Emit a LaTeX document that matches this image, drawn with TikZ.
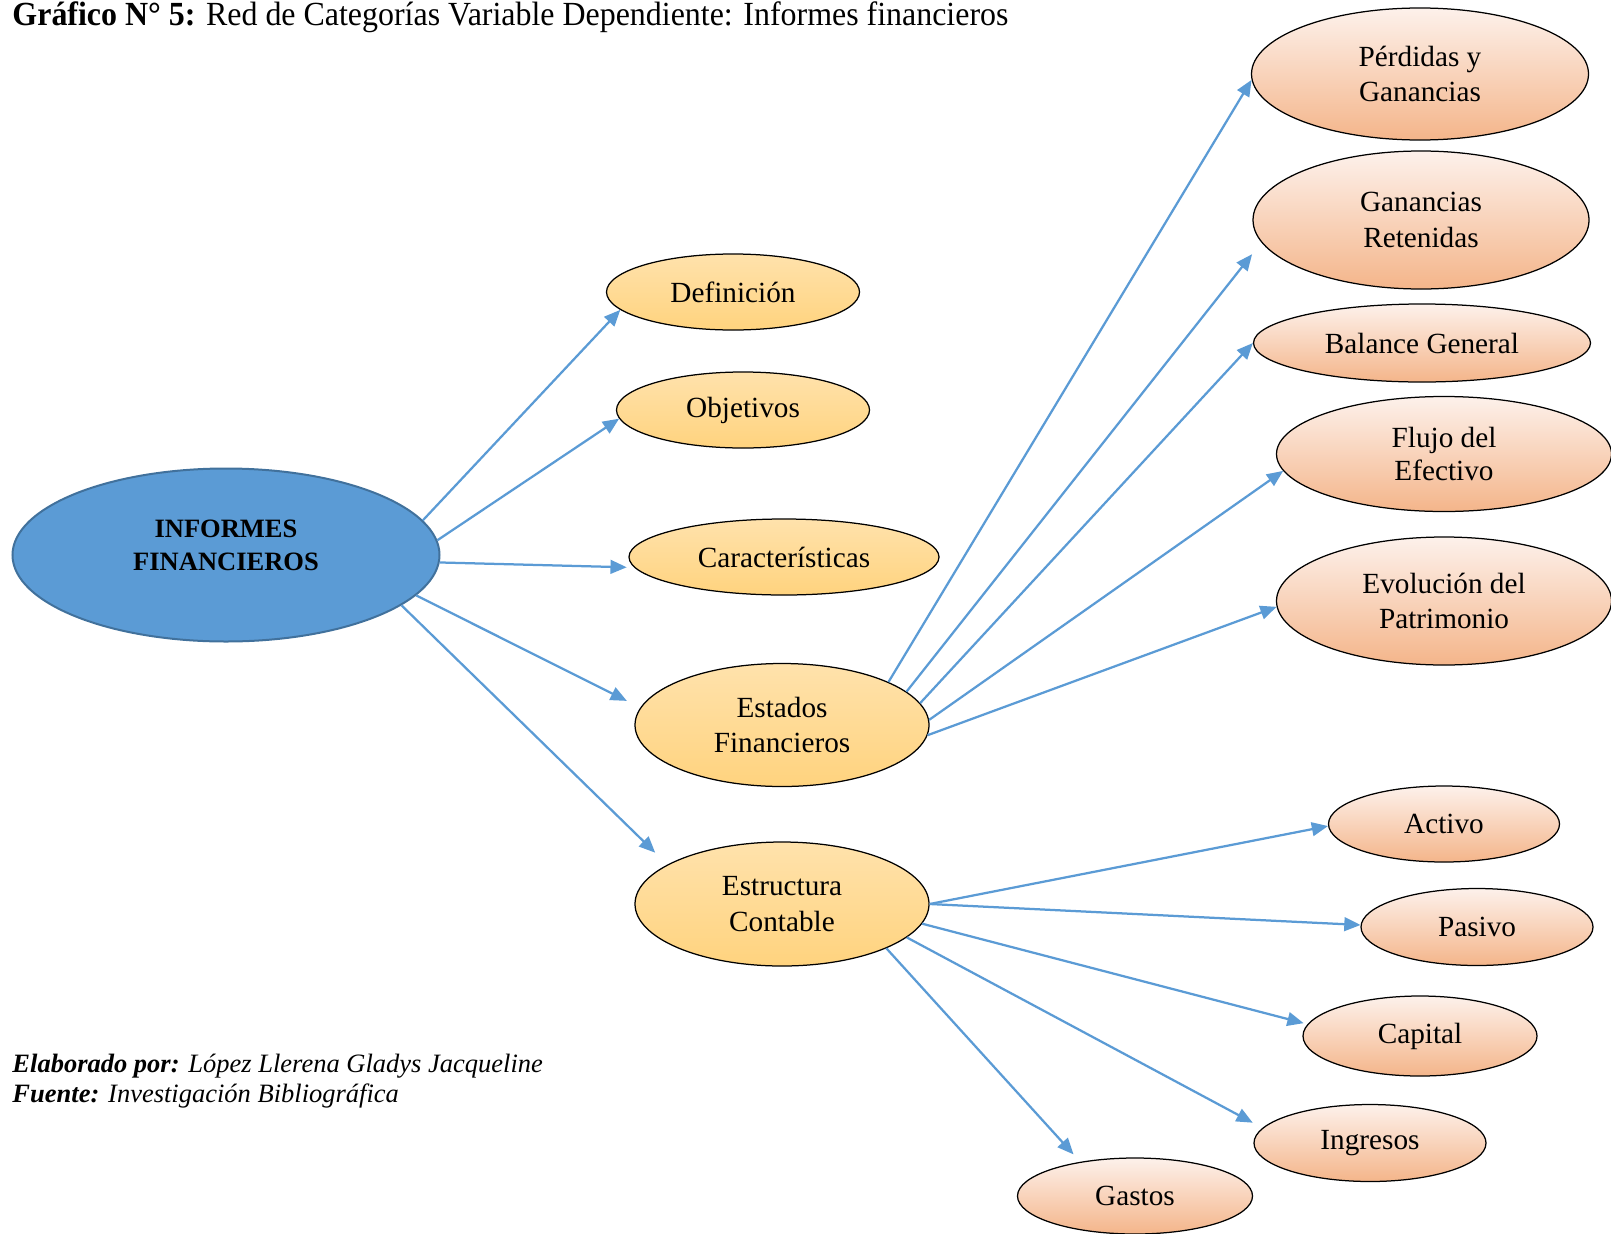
\documentclass[tikz,border=0pt]{standalone}
\usepackage{graphicx}
\usepackage{fontspec}
\setmainfont{Liberation Serif}
\usetikzlibrary{shapes.geometric,arrows.meta}

\definecolor{azul}{HTML}{5B9BD5}
\definecolor{azulborde}{HTML}{41719C}
\definecolor{amarilloA}{HTML}{FFE2AC}
\definecolor{amarilloB}{HTML}{FFD37E}
\definecolor{salmonA}{HTML}{FDF1EB}
\definecolor{salmonB}{HTML}{F4B58A}

\tikzset{
  principal/.style={ellipse, draw=azulborde, line width=0.8pt, fill=azul,
    inner sep=0pt, align=center, font=\fontsize{10.6}{13.2}\selectfont\bfseries},
  categoria/.style={ellipse, draw=black, line width=0.5pt, top color=amarilloA,
    bottom color=amarilloB, inner sep=0pt, align=center,
    font=\fontsize{11.7}{14.2}\selectfont},
  subcategoria/.style={categoria, top color=salmonA, bottom color=salmonB},
  flecha/.style={draw=azul, line width=0.9pt, -{Triangle[length=6.5pt,width=5.5pt]}}
}

\begin{document}
\begin{tikzpicture}[x=0.4pt,y=-0.4pt]
    \useasboundingbox (0,0) rectangle (1611,1233);

    % titulo y notas
    \node[anchor=base west, inner sep=0pt] (titulo) at (12,25)
      {\fontsize{13.5}{16}\selectfont\scalebox{0.946}[1]{\textbf{Gráfico N° 5:} Red de Categorías Variable Dependiente: Informes financieros}};
    \node[anchor=base west, inner sep=0pt, font=\fontsize{10.6}{12.4}\selectfont\itshape] (elaborado) at (12,1072)
      {\textbf{Elaborado por:} López Llerena Gladys Jacqueline};
    \node[anchor=base west, inner sep=0pt, font=\fontsize{10.6}{12.4}\selectfont\itshape] (fuente) at (12,1102)
      {\textbf{Fuente:} Investigación Bibliográfica};

    % nodo central
    \node[principal, minimum width=170.8pt, minimum height=69.2pt, text depth=8pt] (IF) at (226,555) {INFORMES\\FINANCIEROS};

    % categorias
    \node[categoria, minimum width=101.2pt, minimum height=30.4pt] (Def) at (733,292) {Definición};
    \node[categoria, minimum width=101.2pt, minimum height=30.4pt] (Obj) at (743,410) {Objetivos};
    \node[categoria, minimum width=124pt, minimum height=30.4pt] (Car) at (784,557) {Características};
    \node[categoria, minimum width=117.6pt, minimum height=49.2pt] (EF) at (782,725) {Estados\\Financieros};
    \node[categoria, minimum width=117.6pt, minimum height=49.6pt] (EC) at (782,904) {Estructura\\Contable};

    % estados financieros
    \node[subcategoria, minimum width=134.8pt, minimum height=52.8pt] (PG) at (1420,74) {Pérdidas y\\Ganancias};
    \node[subcategoria, minimum width=134.4pt, minimum height=55.2pt] (GR) at (1421,220) {Ganancias\\Retenidas};
    \node[subcategoria, minimum width=134.8pt, minimum height=31.2pt] (BG) at (1422,343) {Balance General};
    \node[subcategoria, minimum width=134pt, minimum height=46pt,
      font=\fontsize{11.7}{13}\selectfont, text depth=-3pt] (FE) at (1444,454) {Flujo del\\Efectivo};
    \node[subcategoria, minimum width=134pt, minimum height=51.2pt] (EP) at (1444,601) {Evolución del\\Patrimonio};

    % estructura contable
    \node[subcategoria, minimum width=92.4pt, minimum height=30.4pt] (Act) at (1444,824) {Activo};
    \node[subcategoria, minimum width=92.8pt, minimum height=30.8pt] (Pas) at (1477,927) {Pasivo};
    \node[subcategoria, minimum width=93.6pt, minimum height=32pt] (Cap) at (1420,1036) {Capital};
    \node[subcategoria, minimum width=92.8pt, minimum height=30.8pt] (Ing) at (1370,1143) {Ingresos};
    \node[subcategoria, minimum width=94pt, minimum height=30.4pt] (Gas) at (1135,1196) {Gastos};

    % flechas
    \draw[flecha] (IF.10) -- (Def.189);
    \draw[flecha] (IF.4) -- (Obj.184);
    \draw[flecha, shorten >=3pt] (IF.-2) -- (Car.184.6);
    \draw[flecha, shorten >=6pt] (IF.-12) -- (EF.173.1);
    \draw[flecha, shorten >=6.8pt] (IF.-16) -- (EC.161.9);

    \draw[flecha] (EF.22) -- (PG.182);
    \draw[flecha, shorten >=6pt] (EF.15) -- (GR.188.3);
    \draw[flecha] (EF.9) -- (BG.180);
    \draw[flecha] (EF.2) -- (FE.186);
    \draw[flecha] (EF.-4) -- (EP.182);

    \draw[flecha] (EC.0) -- (Act.181);
    \draw[flecha] (EC.0) -- (Pas.179);
    \draw[flecha, shorten >=1.6pt] (EC.-8) -- (Cap.174.9);
    \draw[flecha, shorten >=4.4pt] (EC.-15) -- (Ing.172.1);
    \draw[flecha, shorten >=4pt] (EC.-23) -- (Gas.148.4);
\end{tikzpicture}
\end{document}
